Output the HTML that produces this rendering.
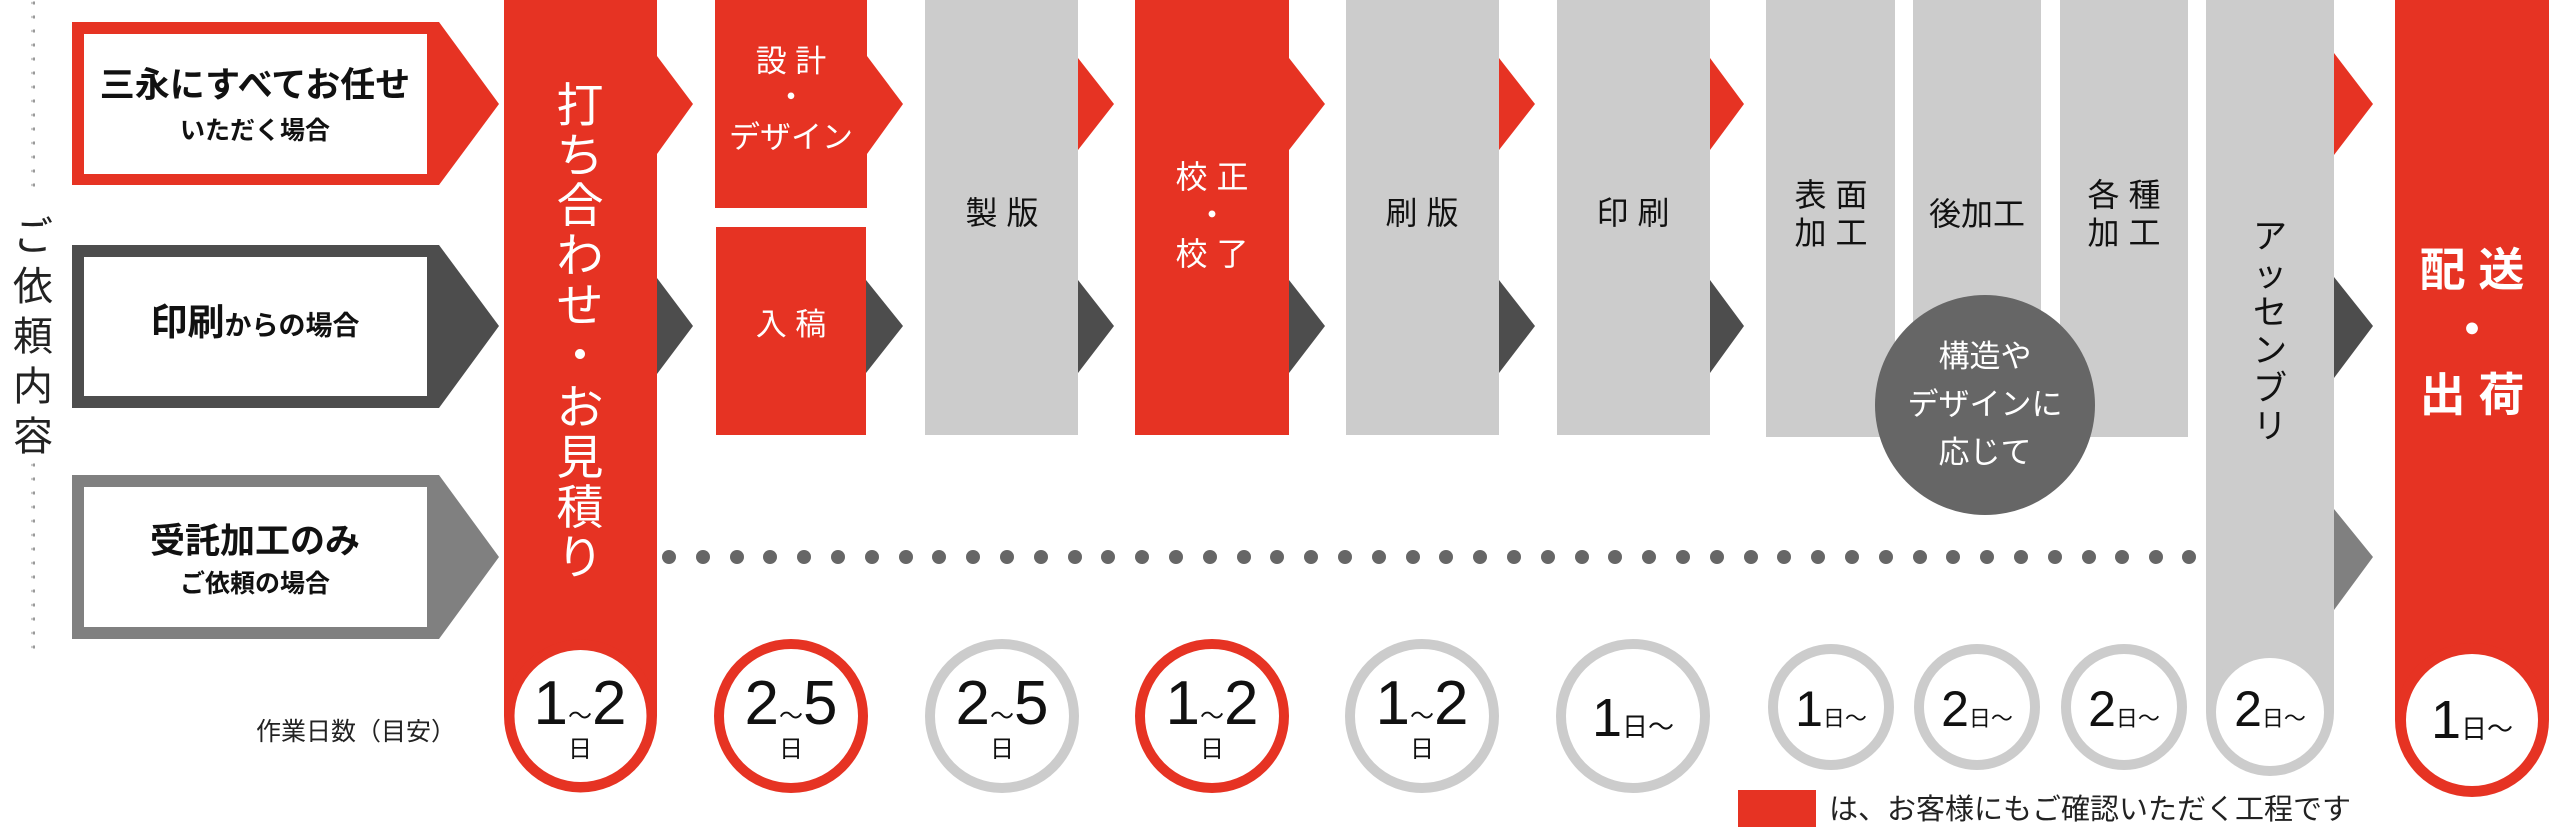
<!DOCTYPE html>
<html><head><meta charset="utf-8"><style>
html,body{margin:0;padding:0;background:#fff;}
svg{display:block}
text{font-family:"Liberation Sans","Noto Sans CJK JP",sans-serif;}
</style></head><body>
<svg width="2550" height="830" viewBox="0 0 2550 830" xmlns="http://www.w3.org/2000/svg">
<defs>
<pattern id="vd" x="0" y="0" width="4" height="14" patternUnits="userSpaceOnUse"><circle cx="2" cy="3" r="1.6" fill="#999"/></pattern>
</defs>
<rect x="31" y="0" width="4" height="190" fill="url(#vd)"/>
<rect x="31" y="462" width="4" height="196" fill="url(#vd)"/>
<g font-size="40" fill="#222" text-anchor="middle">
<text x="33" y="250">ご</text>
<text x="33" y="300">依</text>
<text x="33" y="350">頼</text>
<text x="33" y="400">内</text>
<text x="33" y="450">容</text>
</g>

<path d="M72,22 H439 L499,104 L439,185 H72 Z" fill="#e63323"/>
<rect x="84" y="34" width="343" height="140" fill="#fff"/>
<path d="M72,245 H439 L499,326 L439,408 H72 Z" fill="#4d4d4d"/>
<rect x="84" y="257" width="343" height="139" fill="#fff"/>
<path d="M72,475 H439 L499,557 L439,639 H72 Z" fill="#808080"/>
<rect x="84" y="487" width="343" height="140" fill="#fff"/>
<g fill="#111" text-anchor="middle">
<text x="255" y="97" font-size="35" font-weight="bold">三永にすべてお任せ</text>
<text x="255" y="139" font-size="25" font-weight="bold">いただく場合</text>
<text x="255" y="335"><tspan font-size="37" font-weight="bold">印刷</tspan><tspan font-size="27" font-weight="bold">からの場合</tspan></text>
<text x="255" y="553" font-size="35" font-weight="bold">受託加工のみ</text>
<text x="255" y="592" font-size="25" font-weight="bold">ご依頼の場合</text>
</g>

<rect x="504" y="0" width="153" height="716" fill="#e63323"/>
<circle cx="580.5" cy="716" r="76.5" fill="#e63323"/>
<circle cx="580.5" cy="716" r="66" fill="#fff"/>
<path d="M657,56 L693,104 L657,154 Z" fill="#e63323"/>
<path d="M657,278 L693,326 L657,374 Z" fill="#4d4d4d"/>
<g font-size="47" fill="#fff" text-anchor="middle">
<text x="580" y="122">打</text><text x="580" y="172">ち</text><text x="580" y="222">合</text><text x="580" y="272">わ</text><text x="580" y="322">せ</text><text x="580" y="372">・</text><text x="580" y="424">お</text><text x="580" y="474">見</text><text x="580" y="524">積</text><text x="580" y="574">り</text>
</g>

<rect x="715" y="0" width="152" height="208" fill="#e63323"/>
<rect x="716" y="227" width="150" height="208" fill="#e63323"/>
<path d="M867,56 L903,104 L867,154 Z" fill="#e63323"/>
<path d="M866,280 L903,326 L866,373 Z" fill="#4d4d4d"/>
<g fill="#fff" text-anchor="middle" font-size="31">
<text x="791" y="72">設 計</text>
<text x="791" y="108">・</text>
<text x="791" y="148">デザイン</text>
<text x="791" y="335">入 稿</text>
</g>

<rect x="925" y="0" width="153" height="435" fill="#cccccc"/>
<path d="M1078,58 L1114,104 L1078,150 Z" fill="#e63323"/>
<path d="M1078,280 L1114,326 L1078,373 Z" fill="#4d4d4d"/>
<rect x="1135" y="0" width="154" height="435" fill="#e63323"/>
<path d="M1289,58 L1325,104 L1289,150 Z" fill="#e63323"/>
<path d="M1289,280 L1325,326 L1289,373 Z" fill="#4d4d4d"/>
<rect x="1346" y="0" width="153" height="435" fill="#cccccc"/>
<path d="M1499,58 L1535,104 L1499,150 Z" fill="#e63323"/>
<path d="M1499,280 L1535,326 L1499,373 Z" fill="#4d4d4d"/>
<rect x="1557" y="0" width="153" height="435" fill="#cccccc"/>
<path d="M1710,58 L1744,104 L1710,150 Z" fill="#e63323"/>
<path d="M1710,280 L1744,326 L1710,373 Z" fill="#4d4d4d"/>
<rect x="1766" y="0" width="129" height="437" fill="#cccccc"/>
<rect x="1913" y="0" width="128" height="437" fill="#cccccc"/>
<rect x="2060" y="0" width="128" height="437" fill="#cccccc"/>
<g text-anchor="middle" font-size="32" fill="#111">
<text x="1002" y="224">製 版</text>
<text x="1422" y="224">刷 版</text>
<text x="1633" y="224">印 刷</text>
<text x="1831" y="206">表 面</text>
<text x="1831" y="244">加 工</text>
<text x="1977" y="225">後加工</text>
<text x="2124" y="206">各 種</text>
<text x="2124" y="244">加 工</text>
</g>
<g text-anchor="middle" font-size="32" fill="#fff">
<text x="1212" y="188">校 正</text>
<text x="1212" y="226">・</text>
<text x="1212" y="265">校 了</text>
</g>

<rect x="2206" y="0" width="128" height="712" fill="#cccccc"/>
<circle cx="2270" cy="712" r="64" fill="#cccccc"/>
<circle cx="2270" cy="712" r="54" fill="#fff"/>
<path d="M2334,53 L2373,104 L2334,155 Z" fill="#e63323"/>
<path d="M2334,277 L2373,326 L2334,378 Z" fill="#4d4d4d"/>
<path d="M2334,509 L2373,557 L2334,610 Z" fill="#808080"/>
<g text-anchor="middle" font-size="34" fill="#111">
<text x="2270" y="248">ア</text><text x="2270" y="286">ッ</text><text x="2270" y="324">セ</text><text x="2270" y="362">ン</text><text x="2270" y="400">ブ</text><text x="2270" y="438">リ</text>
</g>

<rect x="2395" y="0" width="154" height="720" fill="#e63323"/>
<circle cx="2472" cy="720" r="77" fill="#e63323"/>
<circle cx="2472" cy="720" r="66" fill="#fff"/>
<g text-anchor="middle" font-size="46" fill="#fff" font-weight="bold">
<text x="2472" y="286">配 送</text>
<text x="2472" y="346">・</text>
<text x="2472" y="411">出 荷</text>
</g>

<circle cx="1985" cy="405" r="110" fill="#666666"/>
<g text-anchor="middle" font-size="31" fill="#fff">
<text x="1985" y="367">構造や</text>
<text x="1985" y="415">デザインに</text>
<text x="1985" y="463">応じて</text>
</g>

<g fill="#fff" stroke-width="10">
<circle cx="791" cy="716" r="72" stroke="#e63323"/>
<circle cx="1002" cy="716" r="72" stroke="#cccccc"/>
<circle cx="1212" cy="716" r="72" stroke="#e63323"/>
<circle cx="1422" cy="716" r="72" stroke="#cccccc"/>
<circle cx="1633" cy="716" r="72" stroke="#cccccc"/>
<circle cx="1831" cy="707" r="58" stroke="#cccccc"/>
<circle cx="1977" cy="707" r="58" stroke="#cccccc"/>
<circle cx="2124" cy="707" r="58" stroke="#cccccc"/>
</g>
<g fill="#111" text-anchor="middle">
<text x="580" y="724"><tspan font-size="62">1</tspan><tspan font-size="24">〜</tspan><tspan font-size="62">2</tspan></text>
<text x="580" y="757" font-size="24">日</text>
<text x="791" y="724"><tspan font-size="62">2</tspan><tspan font-size="24">〜</tspan><tspan font-size="62">5</tspan></text>
<text x="791" y="757" font-size="24">日</text>
<text x="1002" y="724"><tspan font-size="62">2</tspan><tspan font-size="24">〜</tspan><tspan font-size="62">5</tspan></text>
<text x="1002" y="757" font-size="24">日</text>
<text x="1212" y="724"><tspan font-size="62">1</tspan><tspan font-size="24">〜</tspan><tspan font-size="62">2</tspan></text>
<text x="1212" y="757" font-size="24">日</text>
<text x="1422" y="724"><tspan font-size="62">1</tspan><tspan font-size="24">〜</tspan><tspan font-size="62">2</tspan></text>
<text x="1422" y="757" font-size="24">日</text>
<text x="1633" y="736"><tspan font-size="54">1</tspan><tspan font-size="26">日〜</tspan></text>
<text x="1831" y="726"><tspan font-size="50">1</tspan><tspan font-size="22">日〜</tspan></text>
<text x="1977" y="726"><tspan font-size="50">2</tspan><tspan font-size="22">日〜</tspan></text>
<text x="2124" y="726"><tspan font-size="50">2</tspan><tspan font-size="22">日〜</tspan></text>
<text x="2270" y="726"><tspan font-size="50">2</tspan><tspan font-size="22">日〜</tspan></text>
<text x="2472" y="738"><tspan font-size="54">1</tspan><tspan font-size="26">日〜</tspan></text>
</g>
<text x="356" y="740" font-size="25" fill="#222" text-anchor="middle">作業日数（目安）</text>

<rect x="1738" y="790" width="78" height="37" fill="#e63323"/>
<text x="1829" y="819" font-size="29" fill="#222">は、お客様にもご確認いただく工程です</text>

<g fill="#666">
<circle cx="669" cy="557" r="7"/><circle cx="703" cy="557" r="7"/><circle cx="737" cy="557" r="7"/><circle cx="770" cy="557" r="7"/><circle cx="804" cy="557" r="7"/><circle cx="838" cy="557" r="7"/><circle cx="872" cy="557" r="7"/><circle cx="906" cy="557" r="7"/><circle cx="939" cy="557" r="7"/><circle cx="973" cy="557" r="7"/><circle cx="1007" cy="557" r="7"/><circle cx="1041" cy="557" r="7"/><circle cx="1075" cy="557" r="7"/><circle cx="1108" cy="557" r="7"/><circle cx="1142" cy="557" r="7"/><circle cx="1176" cy="557" r="7"/><circle cx="1210" cy="557" r="7"/><circle cx="1244" cy="557" r="7"/><circle cx="1277" cy="557" r="7"/><circle cx="1311" cy="557" r="7"/><circle cx="1345" cy="557" r="7"/><circle cx="1379" cy="557" r="7"/><circle cx="1413" cy="557" r="7"/><circle cx="1446" cy="557" r="7"/><circle cx="1480" cy="557" r="7"/><circle cx="1514" cy="557" r="7"/><circle cx="1548" cy="557" r="7"/><circle cx="1582" cy="557" r="7"/><circle cx="1615" cy="557" r="7"/><circle cx="1649" cy="557" r="7"/><circle cx="1683" cy="557" r="7"/><circle cx="1717" cy="557" r="7"/><circle cx="1751" cy="557" r="7"/><circle cx="1784" cy="557" r="7"/><circle cx="1818" cy="557" r="7"/><circle cx="1852" cy="557" r="7"/><circle cx="1886" cy="557" r="7"/><circle cx="1920" cy="557" r="7"/><circle cx="1953" cy="557" r="7"/><circle cx="1987" cy="557" r="7"/><circle cx="2021" cy="557" r="7"/><circle cx="2055" cy="557" r="7"/><circle cx="2089" cy="557" r="7"/><circle cx="2122" cy="557" r="7"/><circle cx="2156" cy="557" r="7"/><circle cx="2189" cy="557" r="7"/>
</g>
</svg>
</body></html>
